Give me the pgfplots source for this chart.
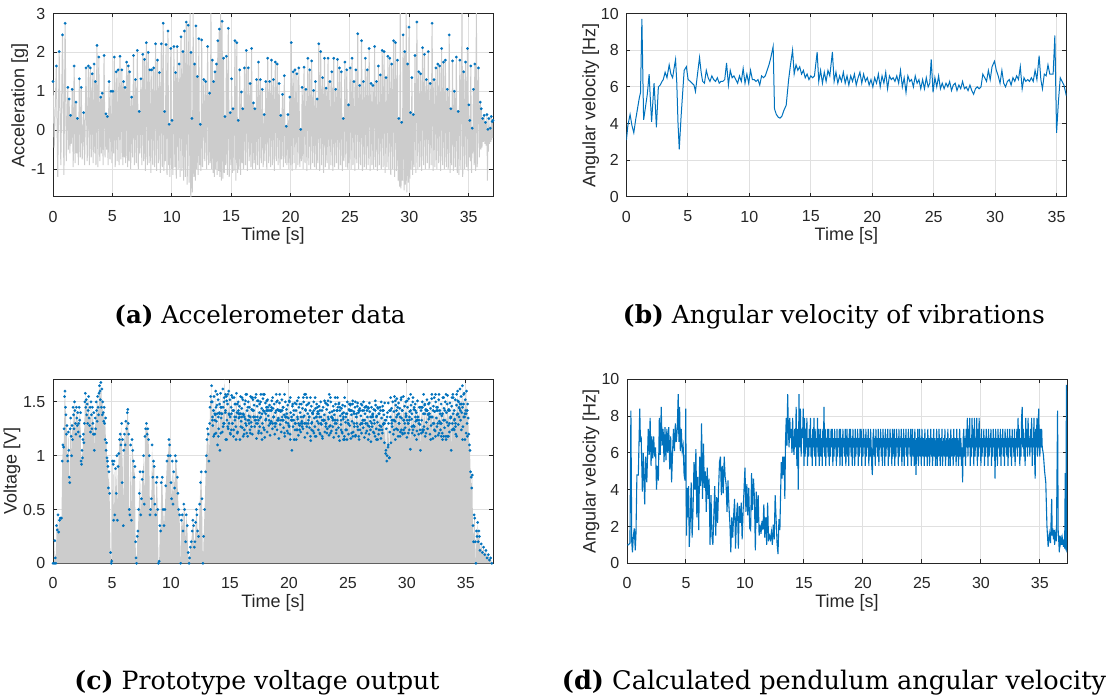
\documentclass[border=0pt]{standalone}
\usepackage{pgfplots}
\usepackage{pgfplotstable}
\pgfplotsset{compat=1.18}
\usepackage{graphicx}
\usepackage{fontspec}
\setmainfont{Liberation Sans}
\newfontfamily\capfont{DejaVu Serif}
\definecolor{mblue}{RGB}{0,114,189}
\definecolor{mgray}{RGB}{204,204,204}
\definecolor{axc}{RGB}{38,38,38}
\definecolor{gridc}{RGB}{224,224,224}

% (a) accelerometer: peak, trough alternating
\pgfplotstableread[row sep=\\]{t v\\
0.00 1.25\\ 0.10 -0.45\\ 0.28 1.65\\ 0.40 -1.2\\ 0.52 2.02\\ 0.66 -0.9\\ 0.80 2.45\\ 0.92 -1.15\\
1.02 2.75\\ 1.12 -0.8\\ 1.25 1.1\\ 1.30 -0.5\\ 1.36 0.8\\ 1.42 -0.6\\ 1.48 0.38\\ 1.55 -0.35\\
1.62 1.05\\ 1.70 -0.95\\ 1.78 1.65\\ 1.86 -0.85\\ 1.94 0.72\\ 2.00 -0.6\\ 2.06 0.3\\ 2.14 -0.9\\
2.22 1.32\\ 2.30 -0.7\\ 2.38 1.1\\ 2.46 -0.75\\ 2.58 0.45\\ 2.66 -0.9\\ 2.78 1.6\\ 2.88 -0.8\\
2.98 1.65\\ 3.06 -0.9\\ 3.14 1.6\\ 3.22 -0.7\\ 3.30 1.45\\ 3.38 -0.85\\ 3.46 1.7\\ 3.52 -0.6\\
3.56 1.25\\ 3.62 -0.9\\ 3.70 2.18\\ 3.78 -0.95\\ 3.86 1.88\\ 3.94 -0.8\\ 4.02 0.85\\ 4.08 -0.6\\
4.14 0.95\\ 4.22 -0.9\\ 4.30 1.92\\ 4.38 -0.7\\ 4.46 0.42\\ 4.52 -0.5\\ 4.58 0.35\\ 4.64 -0.9\\
4.72 1.25\\ 4.80 -0.75\\ 4.88 1.0\\ 4.96 -0.85\\ 5.04 1.0\\ 5.10 -0.6\\ 5.16 1.88\\ 5.24 -0.95\\
5.32 1.5\\ 5.40 -0.8\\ 5.48 1.55\\ 5.56 -0.9\\ 5.64 1.9\\ 5.72 -0.75\\ 5.80 1.55\\ 5.88 -0.9\\
5.94 1.25\\ 6.00 -0.7\\ 6.06 1.1\\ 6.12 -0.85\\ 6.20 1.75\\ 6.28 -0.95\\ 6.34 1.65\\ 6.40 -0.8\\
6.46 1.5\\ 6.54 -1.0\\ 6.62 0.85\\ 6.70 -0.7\\ 6.78 1.92\\ 6.86 -0.9\\ 6.94 1.3\\ 7.02 -0.85\\
7.10 2.05\\ 7.18 -1.0\\ 7.26 0.48\\ 7.32 -0.6\\ 7.40 1.32\\ 7.48 -0.9\\ 7.56 1.95\\ 7.64 -0.8\\
7.70 1.82\\ 7.78 -1.05\\ 7.86 2.25\\ 7.94 -0.9\\ 8.02 2.0\\ 8.10 -0.85\\ 8.16 1.55\\ 8.24 -1.1\\
8.32 1.55\\ 8.40 -0.9\\ 8.48 1.6\\ 8.56 -0.95\\ 8.64 2.22\\ 8.72 -1.05\\ 8.80 1.8\\ 8.88 -0.85\\
8.96 1.48\\ 9.04 -1.1\\ 9.12 2.22\\ 9.20 -0.95\\ 9.28 2.75\\ 9.34 -1.05\\ 9.40 0.48\\ 9.46 -0.8\\
9.52 2.2\\ 9.60 -1.15\\ 9.68 2.55\\ 9.74 -0.9\\ 9.78 0.15\\ 9.84 -1.2\\ 9.92 2.1\\ 9.98 -1.0\\
10.02 0.25\\ 10.10 -1.15\\ 10.18 2.15\\ 10.26 -0.95\\ 10.32 1.48\\ 10.38 -1.25\\ 10.46 2.15\\ 10.54 -1.0\\
10.62 1.7\\ 10.70 -1.2\\ 10.78 2.4\\ 10.86 -1.05\\ 10.94 2.02\\ 11.00 -1.3\\ 11.06 2.55\\ 11.14 -1.2\\
11.22 2.78\\ 11.30 -1.4\\ 11.38 2.7\\ 11.46 -1.35\\ 11.54 3.05\\ 11.60 -1.75\\ 11.62 2.0\\ 11.66 -1.5\\
11.70 0.3\\ 11.74 -1.6\\ 11.80 3.05\\ 11.86 -1.2\\ 11.92 1.7\\ 11.98 -1.3\\ 12.04 2.68\\ 12.10 -1.0\\
12.16 1.38\\ 12.22 -1.15\\ 12.28 2.35\\ 12.34 -0.9\\ 12.40 0.15\\ 12.46 -1.05\\ 12.52 2.32\\ 12.60 -0.95\\
12.70 1.3\\ 12.78 -0.8\\ 12.86 1.25\\ 12.94 -1.0\\ 13.02 2.15\\ 13.10 -0.9\\ 13.18 0.95\\ 13.24 -0.85\\
13.30 3.05\\ 13.36 -1.0\\ 13.42 1.8\\ 13.48 -1.1\\ 13.52 1.25\\ 13.58 -1.2\\ 13.64 1.5\\ 13.70 -1.0\\
13.76 1.7\\ 13.82 -1.15\\ 13.88 2.3\\ 13.94 -1.05\\ 14.00 2.6\\ 14.06 -1.2\\ 14.12 3.05\\ 14.18 -1.3\\
14.24 2.8\\ 14.30 -1.25\\ 14.36 1.85\\ 14.42 -1.1\\ 14.48 0.35\\ 14.54 -0.9\\ 14.60 1.9\\ 14.68 -1.15\\
14.76 2.62\\ 14.84 -1.2\\ 14.92 0.45\\ 14.98 -0.9\\ 15.04 1.32\\ 15.10 -1.1\\ 15.16 0.55\\ 15.24 -1.05\\
15.32 2.3\\ 15.40 -1.3\\ 15.48 2.25\\ 15.54 -1.1\\ 15.60 0.25\\ 15.66 -1.0\\ 15.72 1.55\\ 15.80 -1.15\\
15.86 0.98\\ 15.92 -0.85\\ 15.98 0.55\\ 16.04 -1.0\\ 16.12 1.6\\ 16.20 -0.9\\ 16.28 2.05\\ 16.36 -1.05\\
16.44 1.6\\ 16.52 -0.8\\ 16.60 1.2\\ 16.66 -0.95\\ 16.72 2.1\\ 16.80 -1.0\\ 16.88 0.7\\ 16.94 -0.85\\
17.00 0.55\\ 17.06 -1.0\\ 17.14 1.3\\ 17.22 -0.9\\ 17.30 1.75\\ 17.38 -1.0\\ 17.46 1.3\\ 17.54 -0.85\\
17.62 1.05\\ 17.70 -0.95\\ 17.78 0.4\\ 17.84 -0.8\\ 17.92 1.25\\ 18.00 -1.0\\ 18.08 1.85\\ 18.16 -0.85\\
18.24 1.25\\ 18.32 -0.95\\ 18.40 1.8\\ 18.48 -0.9\\ 18.56 1.3\\ 18.64 -1.05\\ 18.72 1.75\\ 18.80 -0.8\\
18.88 1.7\\ 18.96 -0.9\\ 19.04 1.2\\ 19.12 -1.0\\ 19.18 0.38\\ 19.24 -0.75\\ 19.32 0.92\\ 19.40 -0.95\\
19.48 1.4\\ 19.56 -0.85\\ 19.64 0.1\\ 19.70 -0.9\\ 19.78 0.4\\ 19.86 -1.0\\ 19.94 0.85\\ 20.00 -0.9\\
20.06 2.25\\ 20.14 -1.05\\ 20.22 1.5\\ 20.30 -0.85\\ 20.38 1.55\\ 20.46 -1.0\\ 20.54 1.45\\ 20.62 -0.9\\
20.70 1.6\\ 20.78 -0.95\\ 20.86 0.02\\ 20.92 -0.8\\ 20.98 1.1\\ 21.06 -1.0\\ 21.14 1.62\\ 21.22 -0.85\\
21.30 1.05\\ 21.38 -1.05\\ 21.46 1.85\\ 21.54 -0.9\\ 21.62 1.55\\ 21.70 -1.0\\ 21.78 1.78\\ 21.86 -0.85\\
21.94 1.02\\ 22.02 -0.95\\ 22.10 1.25\\ 22.18 -1.0\\ 22.24 0.8\\ 22.30 -0.85\\ 22.38 2.22\\ 22.46 -1.05\\
22.54 2.02\\ 22.62 -0.9\\ 22.70 1.35\\ 22.78 -1.1\\ 22.86 1.85\\ 22.94 -0.95\\ 23.00 1.08\\ 23.08 -0.85\\
23.16 1.85\\ 23.24 -1.0\\ 23.32 1.25\\ 23.40 -0.9\\ 23.48 1.5\\ 23.56 -1.05\\ 23.64 1.85\\ 23.72 -0.95\\
23.80 1.05\\ 23.88 -0.85\\ 23.96 1.82\\ 24.04 -1.0\\ 24.12 1.6\\ 24.20 -0.9\\ 24.28 1.5\\ 24.36 -1.05\\
24.44 0.3\\ 24.50 -0.8\\ 24.58 1.75\\ 24.66 -0.95\\ 24.74 1.55\\ 24.82 -1.0\\ 24.88 0.65\\ 24.94 -0.85\\
25.02 1.6\\ 25.10 -1.0\\ 25.18 1.85\\ 25.26 -0.9\\ 25.34 1.25\\ 25.42 -1.05\\ 25.50 1.55\\ 25.58 -0.85\\
25.66 2.48\\ 25.74 -1.0\\ 25.82 1.15\\ 25.90 -0.9\\ 25.98 2.3\\ 26.06 -1.05\\ 26.14 1.25\\ 26.22 -0.95\\
26.30 1.85\\ 26.38 -1.0\\ 26.46 1.55\\ 26.54 -0.9\\ 26.62 2.1\\ 26.70 -1.05\\ 26.78 1.2\\ 26.86 -0.9\\
26.94 1.15\\ 27.00 -1.0\\ 27.08 2.15\\ 27.16 -0.95\\ 27.24 1.25\\ 27.32 -1.05\\ 27.40 1.65\\ 27.48 -0.9\\
27.56 1.42\\ 27.64 -1.0\\ 27.72 2.05\\ 27.80 -0.95\\ 27.88 2.02\\ 27.96 -1.1\\ 28.04 1.35\\ 28.12 -0.95\\
28.20 1.9\\ 28.28 -1.0\\ 28.36 1.85\\ 28.44 -1.15\\ 28.52 1.7\\ 28.60 -1.0\\ 28.68 2.3\\ 28.76 -1.2\\
28.84 2.25\\ 28.92 -1.05\\ 29.00 1.8\\ 29.06 -1.3\\ 29.12 0.3\\ 29.18 -1.45\\ 29.24 3.05\\ 29.30 -1.5\\
29.36 0.2\\ 29.42 -1.3\\ 29.48 2.45\\ 29.56 -1.55\\ 29.62 2.02\\ 29.68 -1.4\\ 29.74 3.05\\ 29.80 -1.6\\
29.86 1.7\\ 29.92 -1.35\\ 29.98 2.65\\ 30.04 -1.25\\ 30.10 0.45\\ 30.16 -1.0\\ 30.22 1.35\\ 30.28 -1.15\\
30.34 0.4\\ 30.40 -0.95\\ 30.48 1.92\\ 30.56 -1.1\\ 30.64 2.78\\ 30.72 -1.0\\ 30.80 1.5\\ 30.88 -0.95\\
30.96 1.45\\ 31.04 -1.05\\ 31.12 2.12\\ 31.20 -0.9\\ 31.28 1.95\\ 31.36 -1.0\\ 31.44 1.3\\ 31.52 -0.85\\
31.60 2.02\\ 31.68 -1.0\\ 31.76 1.2\\ 31.84 -0.9\\ 31.92 2.75\\ 32.00 -1.05\\ 32.08 1.3\\ 32.16 -0.95\\
32.24 1.6\\ 32.32 -1.0\\ 32.40 1.7\\ 32.48 -0.85\\ 32.56 1.65\\ 32.64 -1.05\\ 32.72 2.1\\ 32.80 -0.9\\
32.88 1.75\\ 32.96 -1.0\\ 33.04 1.8\\ 33.12 -0.95\\ 33.20 1.05\\ 33.28 -1.0\\ 33.36 2.45\\ 33.44 -1.1\\
33.50 0.55\\ 33.56 -0.9\\ 33.64 1.78\\ 33.72 -1.05\\ 33.80 1.0\\ 33.88 -0.95\\ 33.96 1.88\\ 34.04 -1.1\\
34.12 0.48\\ 34.18 -1.15\\ 34.26 1.8\\ 34.34 -1.0\\ 34.44 3.05\\ 34.50 -1.2\\ 34.58 1.5\\ 34.66 -1.0\\
34.74 1.75\\ 34.82 -0.95\\ 34.90 2.1\\ 34.96 -1.05\\ 35.02 0.65\\ 35.06 -0.7\\ 35.10 0.25\\ 35.14 -0.8\\
35.18 1.65\\ 35.24 -1.1\\ 35.30 0.05\\ 35.34 -0.6\\ 35.40 1.05\\ 35.46 -0.9\\ 35.52 1.7\\ 35.58 -1.05\\
35.65 3.05\\ 35.72 -0.95\\ 35.82 1.6\\ 35.90 -0.7\\ 35.98 0.72\\ 36.02 -0.5\\ 36.06 0.55\\ 36.12 -0.45\\
36.18 0.3\\ 36.24 -0.3\\ 36.30 0.38\\ 36.36 -0.35\\ 36.42 0.2\\ 36.48 -0.4\\ 36.54 0.4\\ 36.58 -1.3\\
36.62 0.02\\ 36.66 -0.55\\ 36.70 0.3\\ 36.76 -0.35\\ 36.82 0.05\\ 36.86 -0.3\\ 36.90 0.35\\ 36.94 -0.25\\
36.98 0.22\\ 37.02 -0.2\\ 37.05 0.25\\ 37.08 -0.1\\
}\adata

% (b) angular velocity of vibrations
\pgfplotstableread{
t v
0.00 3.1
0.12 3.9
0.30 4.5
0.45 3.9
0.60 3.5
0.75 4.2
0.90 4.8
1.05 5.4
1.15 5.7
1.26 9.7
1.40 4.2
1.55 4.9
1.70 5.6
1.85 6.7
1.95 5.3
2.05 4.1
2.25 6.2
2.35 5.0
2.44 3.8
2.60 6.0
2.75 6.1
2.90 6.3
3.00 6.4
3.15 6.8
3.30 6.5
3.48 7.2
3.62 6.7
3.76 6.5
3.90 7.1
4.00 7.5
4.10 6.2
4.20 4.0
4.30 2.6
4.45 4.4
4.60 5.9
4.70 6.9
4.88 7.1
5.02 6.4
5.20 6.3
5.35 6.2
5.50 6.1
5.62 5.75
5.75 6.5
5.95 7.6
6.08 6.8
6.20 6.3
6.35 6.2
6.50 6.9
6.65 6.5
6.80 6.3
6.95 6.6
7.10 6.4
7.25 6.3
7.40 6.5
7.55 6.2
7.70 6.3
7.85 6.3
8.00 6.4
8.15 7.3
8.30 6.1
8.45 6.9
8.60 6.5
8.75 6.6
8.90 6.4
9.05 6.2
9.20 6.6
9.35 6.3
9.50 7.0
9.65 6.2
9.80 6.7
9.95 6.2
10.10 6.9
10.25 6.4
10.40 6.4
10.55 6.3
10.70 6.4
10.85 6.1
11.00 6.6
11.15 6.5
11.30 6.6
11.45 6.9
11.60 7.2
11.75 7.6
11.94 8.2
12.05 4.8
12.20 4.5
12.35 4.35
12.50 4.3
12.65 4.4
12.80 4.7
13.00 5.0
13.20 6.4
13.35 7.2
13.52 8.0
13.65 6.7
13.80 7.2
13.95 6.9
14.10 7.1
14.25 6.7
14.40 6.9
14.55 6.5
14.70 6.7
14.85 6.4
15.00 6.6
15.15 6.5
15.30 6.6
15.52 7.9
15.65 6.3
15.80 6.9
15.95 6.2
16.10 6.8
16.25 6.3
16.40 6.9
16.55 6.6
16.76 7.9
16.90 6.3
17.05 6.8
17.20 6.2
17.35 6.6
17.50 6.3
17.65 6.8
17.80 6.2
17.95 6.6
18.10 6.1
18.25 6.6
18.40 6.3
18.55 6.7
18.70 6.1
18.85 6.5
19.00 6.8
19.15 6.2
19.30 6.7
19.45 6.3
19.60 6.5
19.75 6.1
19.90 6.4
20.05 6.0
20.20 6.5
20.35 6.2
20.50 6.7
20.65 6.0
20.80 6.6
20.95 6.2
21.10 6.8
21.25 5.9
21.40 6.6
21.55 6.4
21.70 6.5
21.85 6.3
22.00 6.6
22.15 6.2
22.30 6.9
22.45 6.0
22.60 6.5
22.75 5.7
22.90 6.6
23.05 6.3
23.20 6.4
23.35 6.0
23.50 6.6
23.65 6.2
23.80 6.4
23.95 5.9
24.10 6.4
24.25 5.9
24.40 6.5
24.55 6.0
24.68 6.2
24.80 7.5
24.95 5.7
25.10 6.5
25.25 6.0
25.40 6.6
25.55 5.9
25.70 6.2
25.85 5.9
26.00 6.2
26.15 6.0
26.30 6.3
26.45 5.8
26.60 6.1
26.75 6.2
26.90 5.8
27.05 6.1
27.20 5.9
27.35 6.3
27.50 5.9
27.65 6.0
27.80 5.8
27.95 6.1
28.10 5.8
28.25 5.6
28.40 5.9
28.55 6.0
28.70 5.9
28.85 6.0
29.00 6.7
29.15 6.5
29.30 6.3
29.45 6.9
29.60 6.4
29.75 7.1
29.95 7.4
30.10 6.9
30.25 6.6
30.40 6.2
30.55 6.9
30.70 6.2
30.85 6.0
31.00 6.3
31.15 6.4
31.30 6.1
31.45 6.5
31.60 6.3
31.75 6.6
31.90 6.4
32.05 7.1
32.20 5.9
32.35 6.5
32.50 6.3
32.65 6.4
32.80 6.3
32.95 6.5
33.10 6.3
33.25 6.9
33.40 6.4
33.58 7.7
33.72 6.4
33.85 5.9
34.00 6.7
34.15 6.6
34.30 7.2
34.45 6.7
34.60 6.7
34.72 6.7
34.86 8.8
35.00 3.5
35.15 5.2
35.30 6.5
35.45 6.3
35.60 6.1
35.80 5.5
}\bdata

% (c) prototype voltage output
\pgfplotstableread{
t v
0.00 0.0
0.10 0.0
0.15 0.21
0.20 0.05
0.24 0.0
0.30 0.35
0.36 0.31
0.42 0.45
0.48 0.29
0.55 0.4
0.62 0.42
0.72 0.42
0.78 0.95
0.84 1.1
0.90 1.08
0.94 1.25
0.98 1.55
1.02 1.6
1.06 1.45
1.10 1.38
1.14 1.2
1.18 1.28
1.22 1.0
1.26 0.95
1.30 1.22
1.34 1.05
1.38 0.8
1.42 0.75
1.46 1.25
1.50 1.35
1.54 1.18
1.58 1.0
1.62 1.28
1.66 1.15
1.70 1.45
1.74 1.38
1.78 1.25
1.82 1.5
1.86 1.42
1.90 1.3
1.94 1.2
1.98 1.45
2.02 1.35
2.06 1.28
2.10 1.4
2.14 1.22
2.18 1.3
2.22 1.45
2.26 1.33
2.30 1.18
2.34 1.4
2.38 0.95
2.42 0.92
2.46 1.05
2.50 0.98
2.54 1.15
2.58 1.2
2.62 1.12
2.66 1.3
2.70 1.5
2.74 1.58
2.78 1.45
2.82 1.52
2.86 1.38
2.90 1.48
2.94 1.3
2.98 1.42
3.02 1.55
3.06 1.35
3.10 1.28
3.14 1.45
3.18 1.22
3.22 1.5
3.26 1.38
3.30 1.25
3.34 1.45
3.38 1.3
3.42 1.2
3.46 1.4
3.50 1.05
3.54 1.2
3.58 1.35
3.62 1.25
3.66 1.5
3.70 1.42
3.74 1.32
3.78 1.55
3.82 1.45
3.86 1.38
3.90 1.58
3.94 1.65
3.98 1.6
4.02 1.52
4.06 1.68
4.10 1.45
4.14 1.62
4.18 1.38
4.22 1.5
4.26 1.4
4.30 1.32
4.34 1.45
4.38 1.3
4.42 1.15
4.46 1.35
4.50 1.05
4.54 1.12
4.58 0.98
4.62 0.95
4.66 0.9
4.70 0.7
4.74 0.85
4.80 0.65
4.88 0.1
4.94 0.0
4.98 0.02
5.04 0.95
5.10 0.92
5.14 0.4
5.18 0.95
5.24 0.45
5.30 0.88
5.36 0.65
5.42 1.0
5.46 0.4
5.52 0.9
5.58 1.02
5.64 1.15
5.70 1.2
5.76 1.1
5.82 1.3
5.86 0.75
5.90 1.15
5.96 0.35
6.00 1.05
6.06 1.2
6.12 1.1
6.18 1.32
6.24 1.25
6.30 1.4
6.34 1.43
6.38 1.3
6.42 1.2
6.46 0.5
6.52 0.45
6.58 1.1
6.64 0.4
6.70 1.15
6.76 1.05
6.82 0.95
6.88 0.8
6.94 0.9
7.00 0.2
7.04 0.05
7.08 0.0
7.14 0.25
7.20 0.3
7.26 0.5
7.32 0.65
7.38 0.85
7.44 0.45
7.50 0.6
7.56 0.78
7.62 0.85
7.68 1.0
7.74 0.55
7.80 1.18
7.86 1.25
7.92 1.3
7.98 1.2
8.04 1.25
8.10 1.15
8.16 1.0
8.22 0.45
8.28 0.5
8.34 0.6
8.40 1.1
8.46 0.8
8.52 0.95
8.58 0.9
8.64 0.55
8.70 0.45
8.76 0.75
8.82 0.8
8.88 0.5
8.94 0.0
9.00 0.02
9.06 0.35
9.12 0.3
9.18 0.75
9.26 0.8
9.34 0.5
9.41 0.35
9.48 0.5
9.56 0.72
9.66 0.95
9.75 1.0
9.83 1.15
9.89 1.1
9.94 1.0
10.00 0.75
10.06 0.6
10.11 0.95
10.17 0.55
10.23 0.85
10.31 0.7
10.37 1.0
10.45 0.95
10.54 0.8
10.59 0.65
10.65 0.5
10.73 0.45
10.82 0.0
10.88 0.4
10.96 0.45
11.02 0.3
11.09 0.55
11.16 0.5
11.24 0.2
11.30 0.45
11.38 0.35
11.46 0.1
11.53 0.0
11.58 0.05
11.64 0.15
11.72 0.2
11.80 0.3
11.86 0.4
11.92 0.35
11.98 0.15
12.03 0.2
12.09 0.38
12.15 0.5
12.20 0.45
12.26 0.3
12.34 0.25
12.43 0.55
12.51 0.75
12.57 0.85
12.63 0.6
12.71 0.0
12.77 0.25
12.85 0.5
12.94 0.85
13.00 1.0
13.05 1.15
13.10 1.25
13.16 1.2
13.22 0.95
13.28 1.3
13.31 1.45
13.36 1.55
13.42 1.5
13.45 1.65
13.50 1.5
13.55 1.28
13.60 1.42
13.65 1.55
13.70 1.2
13.75 1.38
13.80 1.6
13.85 1.32
13.90 1.47
13.95 1.1
14.00 1.52
14.05 1.25
14.10 1.4
14.15 1.05
14.20 1.58
14.25 1.35
14.30 1.45
14.35 1.22
14.40 1.62
14.45 1.3
14.50 1.5
14.55 1.72
14.60 1.4
14.65 1.15
14.70 1.55
14.75 1.33
14.80 1.48
14.85 1.25
14.90 1.6
14.95 1.38
15.00 1.52
15.05 1.2
15.10 1.45
15.15 1.56
15.20 1.3
15.25 1.42
15.30 1.18
15.35 1.54
15.40 1.36
15.45 1.48
15.50 1.27
15.55 1.58
15.60 1.4
15.65 1.22
15.70 1.5
15.75 1.35
15.80 1.46
15.85 1.15
15.90 1.55
15.95 1.32
16.00 1.44
16.05 1.26
16.10 1.52
16.15 1.38
16.20 1.2
16.25 1.48
16.30 1.34
16.35 1.57
16.40 1.28
16.45 1.42
16.50 1.18
16.55 1.5
16.60 1.37
16.65 1.45
16.70 1.24
16.75 1.55
16.80 1.31
16.85 1.43
16.90 1.2
16.95 1.52
17.00 1.36
17.05 1.47
17.10 1.27
17.15 1.54
17.20 1.33
17.25 1.16
17.30 1.46
17.35 1.3
17.40 1.51
17.45 1.23
17.50 1.4
17.55 1.35
17.60 1.5
17.65 1.21
17.70 1.44
17.75 1.3
17.80 1.53
17.85 1.26
17.90 1.41
17.95 1.17
18.00 1.49
18.05 1.34
18.10 1.45
18.15 1.22
18.20 1.52
18.25 1.37
18.30 1.28
18.35 1.47
18.40 1.19
18.45 1.42
18.50 1.32
18.55 1.51
18.60 1.25
18.65 1.44
18.70 1.36
18.75 1.48
18.80 1.2
18.85 1.4
18.90 1.3
18.95 1.5
19.00 1.24
19.05 1.43
19.10 1.35
19.15 1.16
19.20 1.49
19.25 1.29
19.30 1.41
19.35 1.22
19.40 1.52
19.45 1.33
19.50 1.45
19.55 1.26
19.60 1.38
19.65 1.18
19.70 1.5
19.75 1.31
19.80 1.43
19.85 1.23
19.90 1.47
19.95 1.35
20.00 1.28
20.05 1.5
20.10 1.2
20.15 1.4
20.20 1.33
20.25 1.05
20.30 1.46
20.35 1.27
20.40 1.38
20.45 1.15
20.50 1.49
20.55 1.3
20.60 1.42
20.65 1.24
20.70 1.51
20.75 1.34
20.80 1.19
20.85 1.45
20.90 1.28
20.95 1.4
21.00 1.22
21.05 1.48
21.10 1.32
21.15 1.44
21.20 1.25
21.25 1.5
21.30 1.37
21.35 1.17
21.40 1.43
21.45 1.3
21.50 1.47
21.55 1.21
21.60 1.39
21.65 1.33
21.70 1.49
21.75 1.26
21.80 1.42
21.85 1.14
21.90 1.46
21.95 1.31
22.00 1.4
22.05 1.23
22.10 1.5
22.15 1.35
22.20 1.27
22.25 1.44
22.30 1.18
22.35 1.48
22.40 1.32
22.45 1.41
22.50 1.24
22.55 1.46
22.60 1.36
22.65 1.2
22.70 1.5
22.75 1.29
22.80 1.42
22.85 1.16
22.90 1.45
22.95 1.33
23.00 1.38
23.05 1.22
23.10 1.49
23.15 1.3
23.20 1.43
23.25 1.25
23.30 1.47
23.35 1.34
23.40 1.19
23.45 1.4
23.50 1.28
23.55 1.5
23.60 1.23
23.65 1.41
23.70 1.35
23.75 1.46
23.80 1.17
23.85 1.38
23.90 1.3
23.95 1.48
24.00 1.21
24.05 1.42
24.10 1.33
24.15 1.45
24.20 1.26
24.25 1.49
24.30 1.14
24.35 1.37
24.40 1.29
24.45 1.44
24.50 1.22
24.55 1.47
24.60 1.34
24.65 1.4
24.70 1.18
24.75 1.46
24.80 1.31
24.85 1.39
24.90 1.24
24.95 1.5
25.00 1.33
25.05 1.2
25.10 1.43
25.15 1.28
25.20 1.47
25.25 1.16
25.30 1.38
25.35 1.32
25.40 1.48
25.45 1.22
25.50 1.41
25.55 1.27
25.60 1.45
25.65 1.19
25.70 1.36
25.75 1.3
25.80 1.46
25.85 1.24
25.90 1.4
25.95 1.15
26.00 1.44
26.05 1.29
26.10 1.37
26.15 1.21
26.20 1.47
26.25 1.33
26.30 1.26
26.35 1.42
26.40 1.17
26.45 1.39
26.50 1.3
26.55 1.46
26.60 1.23
26.65 1.36
26.70 1.28
26.75 1.44
26.80 1.2
26.85 1.41
26.90 1.32
26.95 1.13
27.00 1.45
27.05 1.27
27.10 1.38
27.15 1.22
27.20 1.43
27.25 1.3
27.30 1.18
27.35 1.47
27.40 1.25
27.45 1.37
27.50 1.31
27.55 1.44
27.60 1.2
27.65 1.39
27.70 1.28
27.75 1.42
27.80 1.16
27.85 1.35
27.90 1.24
27.95 1.46
28.00 1.29
28.05 1.38
28.10 1.12
28.15 1.33
28.20 1.02
28.25 1.25
28.30 0.95
28.35 1.4
28.40 1.08
28.45 1.3
28.50 0.98
28.55 1.22
28.60 1.36
28.65 1.12
28.70 1.44
28.75 1.27
28.80 1.5
28.85 1.2
28.90 1.41
28.95 1.55
29.00 1.32
29.05 1.47
29.10 1.25
29.15 1.53
29.20 1.38
29.25 1.18
29.30 1.49
29.35 1.3
29.40 1.44
29.45 1.22
29.50 1.52
29.55 1.35
29.60 1.42
29.65 1.2
29.70 1.55
29.75 1.33
29.80 1.46
29.85 1.26
29.90 1.5
29.95 1.37
30.00 1.17
30.05 1.45
30.10 1.3
30.15 1.53
30.20 1.24
30.25 1.41
30.30 1.06
30.35 1.47
30.40 1.34
30.45 1.21
30.50 1.5
30.55 1.28
30.60 1.43
30.65 1.19
30.70 1.48
30.75 1.32
30.80 1.4
30.85 1.23
30.90 1.51
30.95 1.36
31.00 1.2
31.05 1.45
31.10 1.29
31.15 1.05
31.20 1.42
31.25 1.33
31.30 1.5
31.35 1.22
31.40 1.39
31.45 1.27
31.50 1.47
31.55 1.18
31.60 1.43
31.65 1.31
31.70 1.52
31.75 1.25
31.80 1.38
31.85 1.34
31.90 1.49
31.95 1.2
32.00 1.44
32.05 1.28
32.10 1.53
32.15 1.36
32.20 1.16
32.25 1.46
32.30 1.3
32.35 1.41
32.40 1.23
32.45 1.5
32.50 1.35
32.55 1.27
32.60 1.45
32.65 1.19
32.70 1.52
32.75 1.32
32.80 1.42
32.85 1.24
32.90 1.48
32.95 1.37
33.00 1.21
33.05 1.54
33.10 1.33
33.15 1.44
33.20 1.26
33.25 1.5
33.30 1.18
33.35 1.4
33.40 1.31
33.45 1.56
33.50 1.28
33.55 1.43
33.60 1.22
33.65 1.49
33.70 1.35
33.75 1.05
33.80 1.46
33.85 1.3
33.90 1.57
33.95 1.25
34.00 1.42
34.05 1.34
34.10 1.52
34.15 1.2
34.20 1.47
34.25 1.38
34.30 1.6
34.35 1.29
34.40 1.5
34.45 1.44
34.50 1.62
34.55 1.33
34.60 1.55
34.65 1.4
34.70 1.65
34.75 1.27
34.80 1.48
34.85 1.58
34.90 1.36
34.95 1.52
35.00 1.42
35.05 1.6
35.10 1.3
35.15 1.48
35.20 1.35
35.25 1.2
35.30 1.1
35.35 1.05
35.40 0.85
35.45 0.8
35.50 0.7
35.55 0.82
35.60 0.35
35.65 0.2
35.70 0.45
35.75 0.42
35.80 0.2
35.85 0.0
35.90 0.3
35.95 0.25
36.00 0.38
36.05 0.2
36.10 0.3
36.15 0.25
36.20 0.12
36.30 0.18
36.40 0.1
36.50 0.15
36.60 0.08
36.70 0.12
36.80 0.05
36.90 0.08
37.00 0.03
37.10 0.05
37.20 0.0
}\cdata

% (c) further voltage peaks in the dense band (two per sample time)
\pgfplotstableread{
t a b
13.52 1.33 1.36
13.62 1.42 1.18
13.72 1.33 1.39
13.82 1.45 1.21
13.92 1.57 1.39
14.02 1.36 1.18
14.12 1.48 1.39
14.22 1.45 1.21
14.32 1.39 1.39
14.42 1.45 1.27
14.52 1.54 1.30
14.62 1.57 1.42
14.72 1.51 1.15
14.82 1.57 1.27
14.92 1.39 1.30
15.02 1.36 1.21
15.12 1.39 1.24
15.22 1.54 1.30
15.32 1.42 1.24
15.42 1.48 1.33
15.52 1.36 1.15
15.62 1.48 1.21
15.72 1.42 1.39
15.82 1.39 1.36
15.92 1.39 1.27
16.02 1.54 1.36
16.12 1.39 1.18
16.22 1.36 1.24
16.32 1.51 1.30
16.42 1.57 1.21
16.52 1.45 1.33
16.62 1.30 1.33
16.72 1.36 1.21
16.82 1.54 1.27
16.92 1.54 1.42
17.02 1.42 1.36
17.12 1.33 1.36
17.22 1.57 1.30
17.32 1.51 1.36
17.42 1.33 1.21
17.52 1.48 1.27
17.62 1.57 1.36
17.72 1.39 1.15
17.82 1.57 1.42
17.92 1.57 1.24
18.02 1.39 1.33
18.12 1.51 1.42
18.22 1.45 1.42
18.32 1.33 1.42
18.42 1.30 1.30
18.52 1.45 1.42
18.62 1.54 1.30
18.72 1.36 1.36
18.82 1.30 1.27
18.92 1.57 1.42
19.02 1.51 1.33
19.12 1.42 1.33
19.22 1.57 1.42
19.32 1.42 1.33
19.42 1.42 1.36
19.52 1.45 1.33
19.62 1.57 1.21
19.72 1.36 1.36
19.82 1.39 1.36
19.92 1.30 1.21
20.02 1.51 1.27
20.12 1.54 1.15
20.22 1.33 1.36
20.32 1.48 1.33
20.42 1.42 1.33
20.52 1.30 1.24
20.62 1.48 1.15
20.72 1.36 1.24
20.82 1.54 1.30
20.92 1.48 1.24
21.02 1.36 1.30
21.12 1.30 1.27
21.22 1.54 1.36
21.32 1.57 1.30
21.42 1.57 1.42
21.52 1.54 1.27
21.62 1.48 1.30
21.72 1.36 1.36
21.82 1.54 1.18
21.92 1.30 1.24
22.02 1.39 1.39
22.12 1.42 1.21
22.22 1.54 1.18
22.32 1.36 1.36
22.42 1.45 1.39
22.52 1.39 1.30
22.62 1.42 1.21
22.72 1.36 1.30
22.82 1.33 1.18
22.92 1.33 1.33
23.02 1.51 1.33
23.12 1.30 1.27
23.22 1.48 1.21
23.32 1.51 1.36
23.42 1.57 1.27
23.52 1.54 1.21
23.62 1.36 1.36
23.72 1.33 1.27
23.82 1.42 1.33
23.92 1.54 1.33
24.02 1.30 1.24
24.12 1.54 1.42
24.22 1.48 1.18
24.32 1.45 1.42
24.42 1.33 1.24
24.52 1.39 1.21
24.62 1.36 1.15
24.72 1.54 1.15
24.82 1.36 1.24
24.92 1.39 1.15
25.02 1.30 1.30
25.12 1.48 1.42
25.22 1.48 1.42
25.32 1.42 1.21
25.42 1.51 1.18
25.52 1.30 1.39
25.62 1.50 1.18
25.72 1.39 1.36
25.82 1.49 1.27
25.92 1.42 1.18
26.02 1.42 1.24
26.12 1.48 1.30
26.22 1.30 1.42
26.32 1.50 1.33
26.42 1.45 1.33
26.52 1.45 1.21
26.62 1.30 1.42
26.72 1.45 1.15
26.82 1.49 1.27
26.92 1.36 1.24
27.02 1.36 1.30
27.12 1.39 1.36
27.22 1.33 1.21
27.32 1.51 1.42
27.42 1.36 1.15
27.52 1.45 1.15
27.62 1.39 1.24
27.72 1.45 1.24
27.82 1.50 1.27
27.92 1.42 1.21
28.02 1.30 1.42
28.12 1.49 1.30
28.22 1.33 1.05
28.32 1.36 1.00
28.42 1.49 1.10
28.52 1.42 0.98
28.62 1.54 1.42
28.72 1.33 1.30
28.82 1.33 1.33
28.92 1.33 1.24
29.02 1.51 1.15
29.12 1.42 1.36
29.22 1.45 1.24
29.32 1.30 1.39
29.42 1.36 1.18
29.52 1.54 1.24
29.62 1.42 1.21
29.72 1.33 1.24
29.82 1.30 1.21
29.92 1.36 1.39
30.02 1.51 1.33
30.12 1.30 1.21
30.22 1.33 1.36
30.32 1.57 1.42
30.42 1.39 1.27
30.52 1.54 1.24
30.62 1.45 1.27
30.72 1.36 1.42
30.82 1.33 1.15
30.92 1.33 1.36
31.02 1.30 1.33
31.12 1.45 1.24
31.22 1.45 1.21
31.32 1.45 1.24
31.42 1.57 1.24
31.52 1.48 1.39
31.62 1.42 1.21
31.72 1.42 1.42
31.82 1.48 1.39
31.92 1.36 1.39
32.02 1.36 1.15
32.12 1.57 1.36
32.22 1.42 1.30
32.32 1.54 1.24
32.42 1.57 1.18
32.52 1.45 1.42
32.62 1.42 1.30
32.72 1.57 1.21
32.82 1.39 1.30
32.92 1.30 1.18
33.02 1.39 1.15
33.12 1.54 1.18
33.22 1.33 1.42
33.32 1.57 1.15
33.42 1.48 1.18
33.52 1.42 1.18
33.62 1.42 1.30
33.72 1.36 1.36
33.82 1.54 1.24
33.92 1.54 1.39
34.02 1.33 1.24
34.12 1.30 1.27
34.22 1.57 1.18
34.32 1.51 1.39
34.42 1.45 1.36
34.52 1.48 1.42
34.62 1.48 1.24
34.72 1.45 1.15
34.82 1.57 1.36
34.92 1.39 1.15
35.02 1.39 1.21
35.12 1.42 1.18
}\cextra

% (d) calculated pendulum angular velocity
\pgfplotstableread{
t v
0.00 1.0
0.12 1.0
0.25 1.1
0.33 8.3
0.40 1.2
0.46 0.6
0.54 1.5
0.62 1.9
0.70 0.7
0.76 1.6
0.84 4.8
0.96 4.8
1.08 8.4
1.14 6.6
1.20 6.9
1.30 3.9
1.38 6.0
1.50 3.2
1.58 5.8
1.68 4.4
1.80 7.3
1.88 5.9
1.96 7.9
2.04 5.3
2.10 6.9
2.18 5.7
2.26 6.9
2.34 5.8
2.42 6.3
2.50 4.0
2.58 5.3
2.66 4.5
2.74 7.9
2.82 5.9
2.90 8.5
2.98 6.4
3.06 7.3
3.14 5.5
3.22 7.4
3.30 5.6
3.38 7.3
3.46 6.0
3.54 7.4
3.62 5.1
3.70 6.9
3.78 4.4
3.86 6.0
3.94 7.3
4.02 6.1
4.10 7.6
4.18 6.6
4.26 7.3
4.34 9.2
4.40 6.6
4.46 8.5
4.52 6.1
4.60 7.3
4.68 6.1
4.76 6.4
4.84 4.8
4.92 4.5
4.98 8.4
5.04 1.5
5.10 4.1
5.16 2.5
5.22 4.2
5.28 0.9
5.36 2.3
5.44 4.4
5.52 1.4
5.60 3.0
5.68 5.5
5.76 4.0
5.84 6.2
5.92 2.5
6.00 4.7
6.08 1.8
6.16 5.8
6.24 4.2
6.32 7.6
6.40 3.5
6.48 6.5
6.56 4.1
6.64 5.0
6.72 2.8
6.80 5.2
6.88 3.5
6.96 4.6
7.04 1.0
7.12 3.7
7.20 1.5
7.28 1.0
7.36 2.6
7.44 4.2
7.52 1.5
7.60 3.6
7.68 2.2
7.76 4.0
7.84 5.5
7.92 5.8
8.00 3.7
8.08 5.3
8.16 3.8
8.24 5.8
8.32 4.7
8.40 4.3
8.48 2.8
8.56 4.5
8.64 3.1
8.72 2.2
8.80 0.6
8.88 2.5
8.96 1.4
9.04 2.6
9.12 3.5
9.20 0.8
9.28 2.5
9.36 3.3
9.44 0.8
9.52 3.1
9.60 2.2
9.68 3.3
9.76 1.3
9.84 2.8
9.92 4.0
10.00 5.2
10.08 2.8
10.16 4.3
10.24 2.6
10.32 4.1
10.40 1.9
10.48 1.8
10.56 4.9
10.64 2.9
10.72 4.6
10.80 3.6
10.88 0.7
10.96 3.9
11.04 2.2
11.12 3.7
11.20 1.5
11.28 2.1
11.36 1.6
11.44 2.3
11.52 1.8
11.60 3.2
11.68 1.4
11.76 2.5
11.84 1.0
11.92 3.3
12.00 1.2
12.08 1.5
12.16 1.3
12.24 1.7
12.32 1.0
12.40 2.1
12.48 1.3
12.56 3.7
12.64 2.4
12.72 1.1
12.80 0.5
12.88 2.4
12.96 1.8
13.02 3.8
13.08 5.5
13.14 4.6
13.20 5.8
13.26 4.8
13.32 5.8
13.38 3.5
13.44 6.7
13.50 7.9
13.56 6.4
13.62 9.2
13.68 7.3
13.74 6.3
13.80 7.9
13.86 6.8
13.92 7.3
13.98 6.0
14.04 7.9
14.10 6.4
14.16 5.9
14.22 7.3
14.28 6.3
14.34 8.5
14.40 5.3
14.46 7.3
14.52 4.0
14.58 9.2
14.64 6.3
14.70 8.4
14.76 5.8
14.82 7.3
14.88 6.8
14.94 8.4
15.00 5.3
15.05 7.9
15.10 5.8
15.15 7.3
15.20 6.3
15.25 7.9
15.30 5.3
15.35 6.8
15.40 5.8
15.45 7.3
15.50 6.3
15.55 7.9
15.60 5.8
15.65 6.8
15.70 5.3
15.75 7.3
15.80 6.3
15.85 7.9
15.90 5.8
15.95 7.3
16.00 5.3
16.05 6.8
16.10 6.3
16.15 7.9
16.20 5.8
16.25 7.3
16.30 5.3
16.35 6.3
16.40 7.3
16.45 5.8
16.50 6.8
16.55 5.3
16.60 7.3
16.65 6.3
16.70 8.5
16.75 5.8
16.80 7.3
16.85 5.3
16.90 6.8
16.95 6.3
17.00 7.3
17.05 5.8
17.10 7.3
17.15 5.3
17.20 6.8
17.25 5.8
17.30 7.3
17.35 6.3
17.40 7.3
17.45 5.3
17.50 6.8
17.55 5.8
17.60 7.3
17.65 6.3
17.70 6.8
17.75 5.3
17.80 7.3
17.85 5.8
17.90 6.8
17.95 6.3
18.00 7.3
18.05 5.3
18.10 7.3
18.15 5.8
18.20 6.8
18.25 5.3
18.30 7.3
18.35 6.3
18.40 6.8
18.45 5.8
18.50 7.3
18.55 5.3
18.60 6.3
18.65 7.3
18.70 5.8
18.75 6.8
18.80 5.3
18.85 7.3
18.90 6.3
18.95 7.3
19.00 5.8
19.05 6.8
19.10 5.3
19.15 7.3
19.20 6.3
19.25 6.8
19.30 5.3
19.35 7.3
19.40 5.8
19.45 6.8
19.50 6.3
19.55 7.3
19.60 5.3
19.65 6.8
19.70 5.8
19.75 7.3
19.80 6.3
19.85 7.3
19.90 5.3
19.95 6.8
20.00 5.8
20.05 7.3
20.10 6.3
20.15 6.8
20.20 5.3
20.25 7.3
20.30 5.8
20.35 6.8
20.40 6.3
20.45 7.3
20.50 5.3
20.55 6.8
20.60 5.8
20.65 7.3
20.70 6.3
20.75 5.3
20.80 4.8
20.85 6.8
20.90 7.3
20.95 5.8
21.00 6.8
21.05 5.3
21.10 7.3
21.15 6.3
21.20 6.8
21.25 5.8
21.30 7.3
21.35 5.3
21.40 6.8
21.45 6.3
21.50 7.3
21.55 5.8
21.60 6.8
21.65 5.3
21.70 7.3
21.75 6.3
21.80 6.8
21.85 5.3
21.90 7.3
21.95 5.8
22.00 6.8
22.05 6.3
22.10 7.3
22.15 5.3
22.20 6.8
22.25 5.8
22.30 7.3
22.35 6.3
22.40 6.8
22.45 5.3
22.50 7.3
22.55 5.8
22.60 6.3
22.65 7.3
22.70 5.3
22.75 6.8
22.80 5.8
22.85 7.3
22.90 6.3
22.95 6.8
23.00 5.3
23.05 7.3
23.10 5.8
23.15 6.8
23.20 6.3
23.25 7.3
23.30 5.3
23.35 6.8
23.40 5.8
23.45 7.3
23.50 5.3
23.55 6.8
23.60 6.3
23.65 7.3
23.70 5.8
23.75 6.8
23.80 5.3
23.85 7.3
23.90 6.3
23.95 6.8
24.00 5.8
24.05 7.3
24.10 5.3
24.15 6.3
24.20 7.3
24.25 5.8
24.30 6.8
24.35 5.3
24.40 7.3
24.45 6.3
24.50 4.8
24.55 6.8
24.60 5.8
24.65 7.3
24.70 5.3
24.75 6.3
24.80 7.3
24.85 5.8
24.90 6.8
24.95 5.3
25.00 7.3
25.05 6.3
25.10 5.8
25.15 6.8
25.20 5.3
25.25 7.3
25.30 5.8
25.35 6.3
25.40 6.8
25.45 5.3
25.50 7.3
25.55 5.8
25.60 6.8
25.65 5.3
25.70 6.3
25.75 7.3
25.80 5.8
25.85 6.8
25.90 5.3
25.95 6.3
26.00 7.3
26.05 5.8
26.10 6.8
26.15 5.3
26.20 6.3
26.25 7.3
26.30 5.3
26.35 6.8
26.40 5.8
26.45 7.3
26.50 6.3
26.55 5.3
26.60 6.8
26.65 5.8
26.70 7.3
26.75 5.3
26.80 6.3
26.85 6.8
26.90 5.8
26.95 7.3
27.00 5.3
27.05 6.3
27.10 6.8
27.15 5.8
27.20 7.3
27.25 5.3
27.30 6.3
27.35 6.8
27.40 5.3
27.45 7.3
27.50 5.8
27.55 6.3
27.60 6.8
27.65 5.3
27.70 7.3
27.75 5.8
27.80 6.3
27.85 6.8
27.90 5.3
27.95 7.3
28.00 5.8
28.05 6.8
28.10 5.3
28.15 6.3
28.20 7.3
28.25 5.8
28.30 6.8
28.35 5.3
28.40 6.3
28.45 4.4
28.50 6.8
28.55 7.3
28.60 5.8
28.65 6.8
28.70 5.3
28.75 7.3
28.80 6.3
28.85 7.9
28.90 5.8
28.95 7.3
29.00 6.3
29.05 7.9
29.10 5.3
29.15 6.8
29.20 5.8
29.25 7.9
29.30 6.3
29.35 7.3
29.40 5.3
29.45 7.9
29.50 5.8
29.55 6.8
29.60 6.3
29.65 7.9
29.70 5.3
29.75 7.3
29.80 5.8
29.85 7.9
29.90 6.3
29.95 6.8
30.00 5.3
30.05 7.3
30.10 5.8
30.15 6.8
30.20 6.3
30.25 7.3
30.30 5.3
30.35 6.8
30.40 5.8
30.45 7.3
30.50 6.3
30.55 6.8
30.60 5.3
30.65 7.3
30.70 5.8
30.75 6.8
30.80 6.3
30.85 7.3
30.90 5.3
30.95 6.8
31.00 5.8
31.05 7.3
31.10 6.3
31.15 6.8
31.20 4.6
31.25 7.3
31.30 5.8
31.35 6.8
31.40 5.3
31.45 7.3
31.50 6.3
31.55 6.8
31.60 5.8
31.65 7.3
31.70 5.3
31.75 6.8
31.80 6.3
31.85 7.3
31.90 5.8
31.95 6.8
32.00 5.3
32.05 7.3
32.10 6.3
32.15 6.8
32.20 5.8
32.25 7.3
32.30 5.3
32.35 6.8
32.40 6.3
32.45 7.3
32.50 5.8
32.55 6.8
32.60 5.3
32.65 7.3
32.70 6.3
32.75 6.8
32.80 5.8
32.85 7.3
32.90 5.3
32.95 6.8
33.00 6.3
33.05 7.3
33.10 5.8
33.15 7.9
33.20 6.3
33.25 7.3
33.30 5.3
33.35 6.8
33.40 5.8
33.45 7.9
33.50 8.5
33.55 6.3
33.60 7.3
33.65 5.8
33.70 6.8
33.75 5.3
33.80 7.9
33.85 6.3
33.90 7.3
33.95 5.8
34.00 7.9
34.05 6.3
34.10 6.8
34.15 5.8
34.20 7.3
34.25 6.3
34.30 7.9
34.35 5.3
34.40 6.8
34.45 6.3
34.50 7.9
34.55 5.8
34.60 4.6
34.65 7.3
34.70 6.3
34.75 7.9
34.80 5.8
34.85 7.3
34.90 8.4
34.95 6.3
35.00 5.8
35.05 7.3
35.10 6.3
35.15 7.3
35.20 6.3
35.30 5.9
35.40 5.0
35.50 4.4
35.60 2.0
35.70 0.9
35.80 1.6
35.90 1.1
36.00 3.5
36.05 1.5
36.10 1.9
36.15 1.3
36.20 1.8
36.25 1.0
36.30 1.6
36.40 1.2
36.50 8.3
36.55 1.8
36.60 1.2
36.65 0.6
36.70 1.5
36.75 1.1
36.80 1.3
36.85 1.0
36.90 1.4
36.95 1.2
37.00 0.9
37.05 1.3
37.10 0.8
37.15 4.9
37.20 0.7
37.25 9.7
37.30 0.6
}\ddata

\pgfplotsset{
  mat/.style={
    scale only axis, width=220pt, height=91.75pt, anchor=south west,
    axis line style={draw=axc, line width=0.5pt},
    tick style={draw=axc, line width=0.5pt},
    major tick length=2pt,
    tick align=inside,
    grid=major,
    major grid style={draw=gridc, line width=0.5pt},
    tick label style={font=\fontsize{8}{9}\selectfont, text=axc},
    /pgf/number format/assume math mode=true,
    xticklabel shift=3.4pt, yticklabel shift=0.3pt,
    xlabel={Time [s]},
    every axis x label/.style={at={(axis description cs:0.5,-0.213)}, anchor=center, font=\fontsize{9}{10}\selectfont, text=axc},
    every axis y label/.style={rotate=90, anchor=center, font=\fontsize{9}{10}\selectfont, text=axc},
    xtick={0,5,...,35}, xmin=0,
    filter discard warning=false,
  },
  dots/.style={only marks, mark=*, mark size=0.65pt, color=mblue, mark options={solid, draw=mblue, fill=mblue, line width=0.1pt}},
}

\begin{document}
\begin{tikzpicture}
\path[use as bounding box] (0,0) rectangle (556pt,348.5pt);

% (a)
\begin{axis}[mat, at={(26.5pt,250pt)}, xmax=37.05, ymin=-1.72, ymax=3,
  ytick={-1,0,1,2,3}, ylabel={Acceleration [g]},
  ylabel style={at={(axis description cs:-0.0757,0.5)}}]
\addplot[draw=mgray, line width=0.5pt] table[x=t,y=v] {\adata};
\addplot[dots, each nth point=2] table[x=t,y=v] {\adata};
\end{axis}

% (b)
\begin{axis}[mat, at={(313.2pt,250pt)}, xmax=35.8, ymin=0, ymax=10,
  ytick={0,2,...,10}, ylabel={Angular velocity [Hz]},
  ylabel style={at={(axis description cs:-0.081,0.5)}}]
\addplot[draw=mblue, line width=0.5pt] table[x=t,y=v] {\bdata};
\end{axis}

% (c)
\begin{axis}[mat, at={(26.5pt,66.85pt)}, height=92pt, xmax=37.3, ymin=0, ymax=1.71,
  ytick={0,0.5,1,1.5}, ylabel={Voltage [V]},
  ylabel style={at={(axis description cs:-0.093,0.5)}}]
\addplot[fill=mgray, draw=none] table[x=t,y=v] {\cdata} \closedcycle;
\addplot[dots] table[x=t,y=v] {\cdata};
\addplot[dots] table[x=t,y=a] {\cextra};
\addplot[dots] table[x=t,y=b] {\cextra};
\end{axis}

% (d)
\begin{axis}[mat, at={(313.5pt,66.85pt)}, height=92pt, xmax=37.3, ymin=0, ymax=10,
  ytick={0,2,...,10}, ylabel={Angular velocity [Hz]},
  ylabel style={at={(axis description cs:-0.082,0.5)}}]
\addplot[draw=mblue, line width=0.55pt] table[x=t,y=v] {\ddata};
\end{axis}

% captions
\node[anchor=base, inner sep=0pt] at (130pt,187pt) {\resizebox{145.5pt}{!}{\capfont\textbf{(a)} Accelerometer data}};
\node[anchor=base, inner sep=0pt] at (417pt,187pt) {\resizebox{211pt}{!}{\capfont\textbf{(b)} Angular velocity of vibrations}};
\node[anchor=base, inner sep=0pt] at (128.5pt,3.75pt) {\resizebox{182.5pt}{!}{\capfont\textbf{(c)} Prototype voltage output}};
\node[anchor=base, inner sep=0pt] at (417pt,3.75pt) {\resizebox{272pt}{!}{\capfont\textbf{(d)} Calculated pendulum angular velocity}};
\end{tikzpicture}
\end{document}
